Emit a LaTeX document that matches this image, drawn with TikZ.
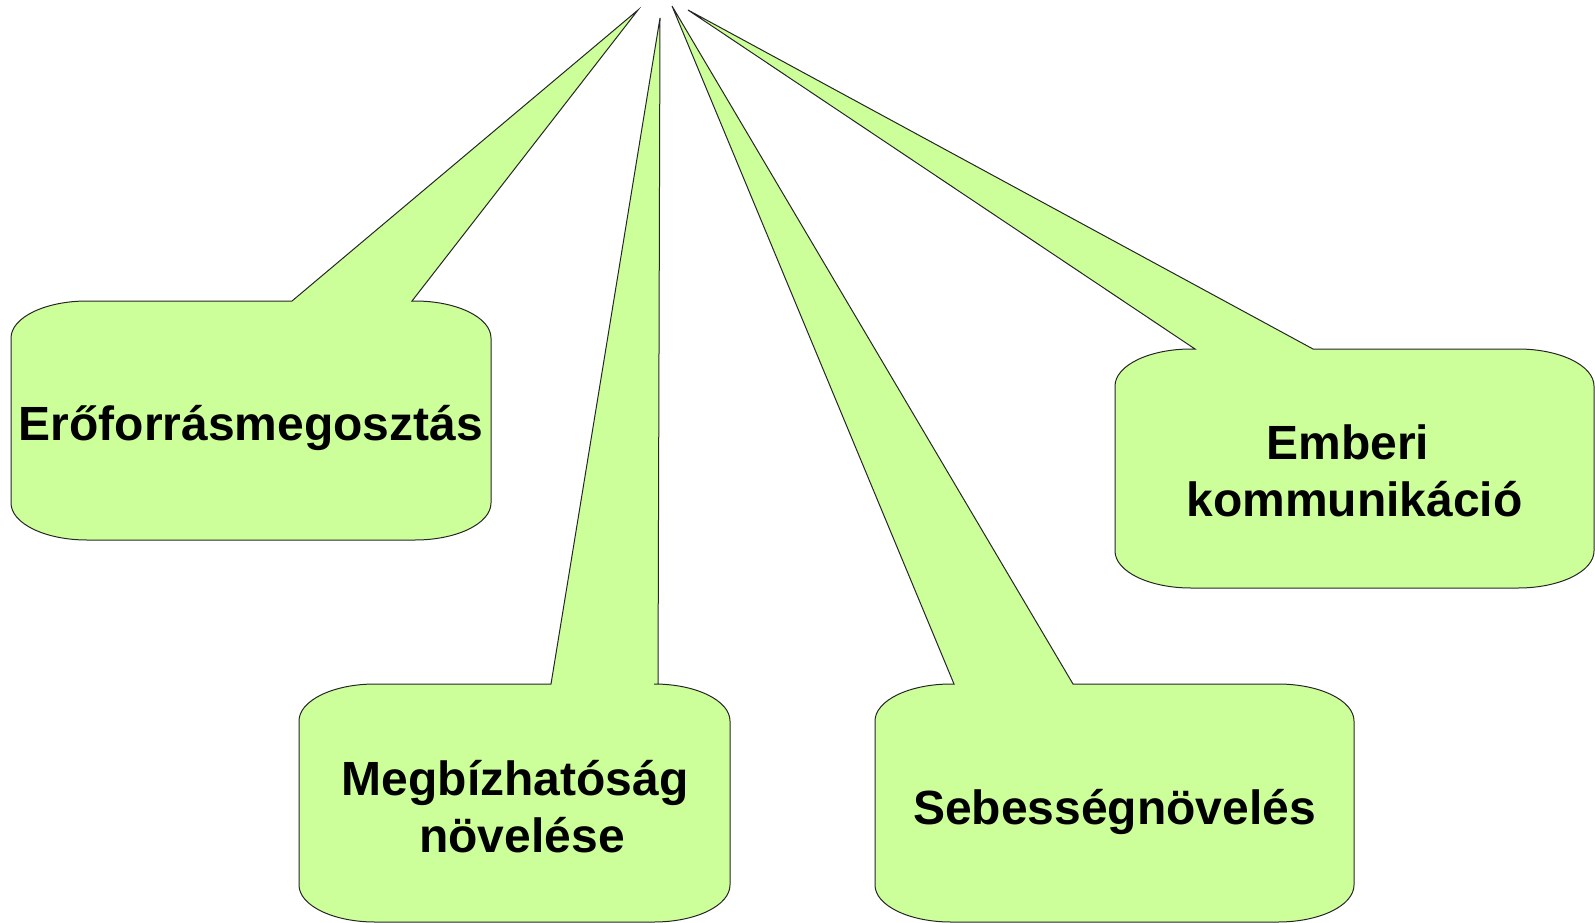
\documentclass[tikz,border=0pt]{standalone}
\usepackage{fontspec}
\setmainfont{Liberation Sans}
\definecolor{bubblegreen}{RGB}{204,255,153}
\usepackage{tikz}

\tikzset{
  bubbleshape/.style={draw=black!85,line width=1pt,fill=bubblegreen,line join=miter},
  bubbletext/.style={font=\fontsize{48}{57}\selectfont\bfseries,align=center,inner sep=0pt}
}

% callout: left, top, right, bottom, pointer base 1, pointer base 2, tip x, tip y
\newcommand{\bubble}[8]{%
  \draw[bubbleshape] (#1,#2+37) .. controls (#1,#2+16.6) and (#1+34,#2) .. (#1+76,#2)
    -- (#5,#2) -- (#7,#8) -- (#6,#2) -- (#3-76,#2)
    .. controls (#3-34,#2) and (#3,#2+16.6) .. (#3,#2+37)
    -- (#3,#4-37)
    .. controls (#3,#4-16.6) and (#3-34,#4) .. (#3-76,#4)
    -- (#1+76,#4)
    .. controls (#1+34,#4) and (#1,#4-16.6) .. (#1,#4-37) -- cycle;}

\begin{document}
\begin{tikzpicture}[x=1pt,y=-1pt]
    \useasboundingbox (0,0) rectangle (1595,923);

    % resource sharing
    \bubble{11}{301}{491}{540}{292}{412}{638}{10}
    \node[bubbletext,anchor=base] (eroforras) at (251,440) {Erőforrásmegosztás};

    % reliability
    \bubble{299}{684}{730}{922}{551}{658}{660}{18}
    \node[bubbletext] (megbizhatosag) at (522,807) {Megbízhatóság\hspace*{0.28em}\\növelése};

    % speed
    \bubble{875}{684}{1354}{922}{954}{1073}{672}{6}
    \node[bubbletext,anchor=base] (sebesseg) at (1114.5,824) {Sebességnövelés};

    % human communication
    \bubble{1115}{349}{1594}{588}{1195}{1313}{688}{10}
    \node[bubbletext] (emberi) at (1354.5,471) {Emberi\hspace*{0.28em}\\kommunikáció};
\end{tikzpicture}
\end{document}
